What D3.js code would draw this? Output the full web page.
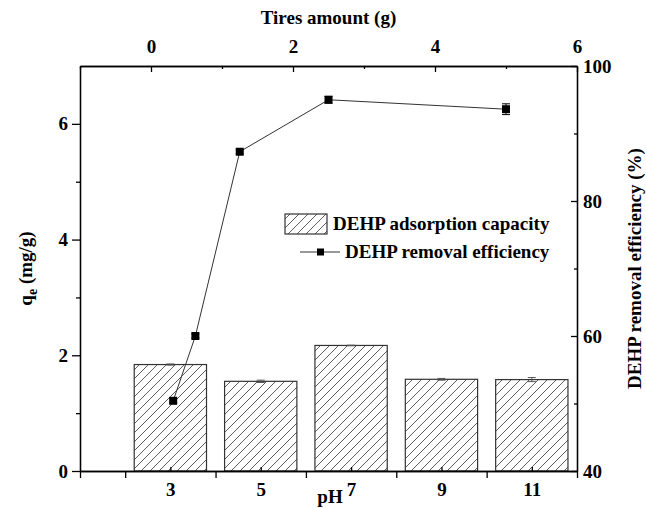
<!DOCTYPE html>
<html>
<head>
<meta charset="utf-8">
<script src="https://cdn.jsdelivr.net/npm/d3@7"></script>
<style>
  body { margin: 0; background: #fff; }
  text { font-family: "Liberation Serif", "Times New Roman", serif; font-weight: bold; fill: #000; }
</style>
</head>
<body>
<script>
// data
var pH = ["3", "5", "7", "9", "11"];
var qe = [1.84, 1.55, 2.17, 1.585, 1.58];
var qeErr = [0.01, 0.02, 0.005, 0.015, 0.035];
var tires = [0.3125, 0.625, 1.25, 2.5, 5];
var removal = [50.4, 60.0, 87.3, 95.0, 93.6];
var removalErr = [0.3, 0.3, 0.3, 0.5, 0.8];
var leftTicks = [0, 2, 4, 6];
var rightTicks = [40, 60, 80, 100];
var topTicks = [0, 2, 4, 6];

var W = 646, H = 509;
var L = 80, R = 577, T = 66, B = 471;
var FS = 19;

var svg = d3.select("body").append("svg")
  .attr("width", W).attr("height", H);

// hatch pattern
var defs = svg.append("defs");
var pat = defs.append("pattern")
  .attr("id", "hatch").attr("patternUnits", "userSpaceOnUse")
  .attr("width", 9).attr("height", 9);
pat.append("rect").attr("width", 9).attr("height", 9).attr("fill", "#fff");
pat.append("path").attr("d", "M-1,1 l2,-2 M0,9 l9,-9 M8,10 l2,-2")
  .attr("stroke", "#333").attr("stroke-width", 0.8);

// scales
var x = d3.scaleLinear().domain([0, 5.5]).range([L, R]);
var xTop = d3.scaleLinear().domain([-1, 6]).range([L, R]);
var yL = d3.scaleLinear().domain([0, 7]).range([B, T]);
var yR = d3.scaleLinear().domain([40, 100]).range([B, T]);

var barW = x(0.8) - x(0);

// bars
svg.selectAll(".bar").data(qe).enter().append("rect")
  .attr("class", "bar")
  .attr("x", function(d, i) { return x(i + 1) - barW / 2; })
  .attr("y", function(d) { return yL(d); })
  .attr("width", barW)
  .attr("height", function(d) { return yL(0) - yL(d); })
  .attr("fill", "url(#hatch)")
  .attr("stroke", "#333").attr("stroke-width", 1.2);

// bar error bars
qe.forEach(function(d, i) {
  var cx = x(i + 1), e = qeErr[i];
  var g = svg.append("g").attr("stroke", "#555").attr("stroke-width", 1);
  g.append("line").attr("x1", cx).attr("x2", cx).attr("y1", yL(d - e)).attr("y2", yL(d + e));
  g.append("line").attr("x1", cx - 4).attr("x2", cx + 4).attr("y1", yL(d + e)).attr("y2", yL(d + e));
  g.append("line").attr("x1", cx - 4).attr("x2", cx + 4).attr("y1", yL(d - e)).attr("y2", yL(d - e));
});

// line series
var pts = tires.map(function(t, i) { return [t, removal[i], removalErr[i]]; });
svg.append("path").datum(pts)
  .attr("fill", "none").attr("stroke", "#333").attr("stroke-width", 1)
  .attr("d", d3.line().x(function(d) { return xTop(d[0]); }).y(function(d) { return yR(d[1]); }));

pts.forEach(function(d) {
  var cx = xTop(d[0]);
  var g = svg.append("g").attr("stroke", "#000").attr("stroke-width", 1);
  g.append("line").attr("x1", cx).attr("x2", cx).attr("y1", yR(d[1] - d[2])).attr("y2", yR(d[1] + d[2]));
  g.append("line").attr("x1", cx - 4).attr("x2", cx + 4).attr("y1", yR(d[1] + d[2])).attr("y2", yR(d[1] + d[2]));
  g.append("line").attr("x1", cx - 4).attr("x2", cx + 4).attr("y1", yR(d[1] - d[2])).attr("y2", yR(d[1] - d[2]));
});
svg.selectAll(".pt").data(pts).enter().append("rect")
  .attr("class", "pt")
  .attr("x", function(d) { return xTop(d[0]) - 4; })
  .attr("y", function(d) { return yR(d[1]) - 4; })
  .attr("width", 8).attr("height", 8).attr("fill", "#000");

// axes
function styleAxis(g) {
  g.selectAll("path").attr("stroke", "#000").attr("stroke-width", 1.3);
  g.selectAll("line").attr("stroke", "#000").attr("stroke-width", 1.3);
  g.selectAll("text").attr("font-size", FS).attr("font-family", null).attr("fill", "#000");
}

// left
svg.append("g").attr("transform", "translate(" + L + ",0)")
  .call(d3.axisLeft(yL).tickValues(leftTicks).tickSizeInner(8).tickSizeOuter(0).tickPadding(4).tickFormat(d3.format("d")))
  .call(styleAxis);
svg.append("g").attr("transform", "translate(" + L + ",0)")
  .call(d3.axisLeft(yL).tickValues([1, 3, 5]).tickSizeInner(4).tickSizeOuter(0).tickFormat(""))
  .call(styleAxis);

// right
svg.append("g").attr("transform", "translate(" + R + ",0)")
  .call(d3.axisRight(yR).tickValues(rightTicks).tickSizeInner(-6).tickSizeOuter(0).tickPadding(6).tickFormat(d3.format("d")))
  .call(styleAxis);
svg.append("g").attr("transform", "translate(" + R + ",0)")
  .call(d3.axisRight(yR).tickValues([50, 70, 90]).tickSizeInner(-3).tickSizeOuter(0).tickFormat(""))
  .call(styleAxis);

// top
svg.append("g").attr("transform", "translate(0," + T + ")")
  .call(d3.axisTop(xTop).tickValues(topTicks).tickSizeInner(-6).tickSizeOuter(0).tickPadding(13).tickFormat(d3.format("d")))
  .call(styleAxis);
svg.append("g").attr("transform", "translate(0," + T + ")")
  .call(d3.axisTop(xTop).tickValues([-1, 1, 3, 5]).tickSizeInner(-3).tickSizeOuter(0).tickFormat(""))
  .call(styleAxis);

// bottom
svg.append("g").attr("transform", "translate(0," + B + ")")
  .call(d3.axisBottom(x).tickValues([1, 2, 3, 4, 5]).tickSizeInner(-4).tickSizeOuter(0).tickPadding(12)
    .tickFormat(function(d) { return pH[d - 1]; }))
  .call(styleAxis);
svg.append("g").attr("transform", "translate(0," + B + ")")
  .call(d3.axisBottom(x).tickValues([0, 0.5, 1.5, 2.5, 3.5, 4.5, 5.5]).tickSizeInner(7).tickSizeOuter(0).tickFormat(""))
  .call(styleAxis);

// axis titles
svg.append("text").attr("x", (L + R) / 2).attr("y", 24)
  .attr("text-anchor", "middle").attr("font-size", FS).text("Tires amount (g)");
svg.append("text").attr("x", 330).attr("y", 503)
  .attr("text-anchor", "middle").attr("font-size", 19).text("pH");

var lt = svg.append("text").attr("transform", "translate(32," + ((T + B) / 2) + ") rotate(-90)")
  .attr("text-anchor", "middle").attr("font-size", FS);
lt.append("tspan").text("q");
lt.append("tspan").attr("font-size", 14).attr("dy", 5).text("e");
lt.append("tspan").attr("dy", -5).text(" (mg/g)");

svg.append("text").attr("transform", "translate(641," + ((T + B) / 2) + ") rotate(-90)")
  .attr("text-anchor", "middle").attr("font-size", FS).text("DEHP removal efficiency (%)");

// legend
var lg = svg.append("g");
lg.append("rect").attr("x", 285).attr("y", 214).attr("width", 42).attr("height", 20)
  .attr("fill", "url(#hatch)").attr("stroke", "#333").attr("stroke-width", 1.2);
lg.append("text").attr("x", 333).attr("y", 230).attr("font-size", FS).text("DEHP adsorption capacity");
lg.append("line").attr("x1", 300).attr("x2", 340).attr("y1", 252).attr("y2", 252)
  .attr("stroke", "#333").attr("stroke-width", 1);
lg.append("rect").attr("x", 317).attr("y", 248.5).attr("width", 7).attr("height", 7).attr("fill", "#000");
lg.append("text").attr("x", 345).attr("y", 258).attr("font-size", FS).text("DEHP removal efficiency");
</script>
</body>
</html>
